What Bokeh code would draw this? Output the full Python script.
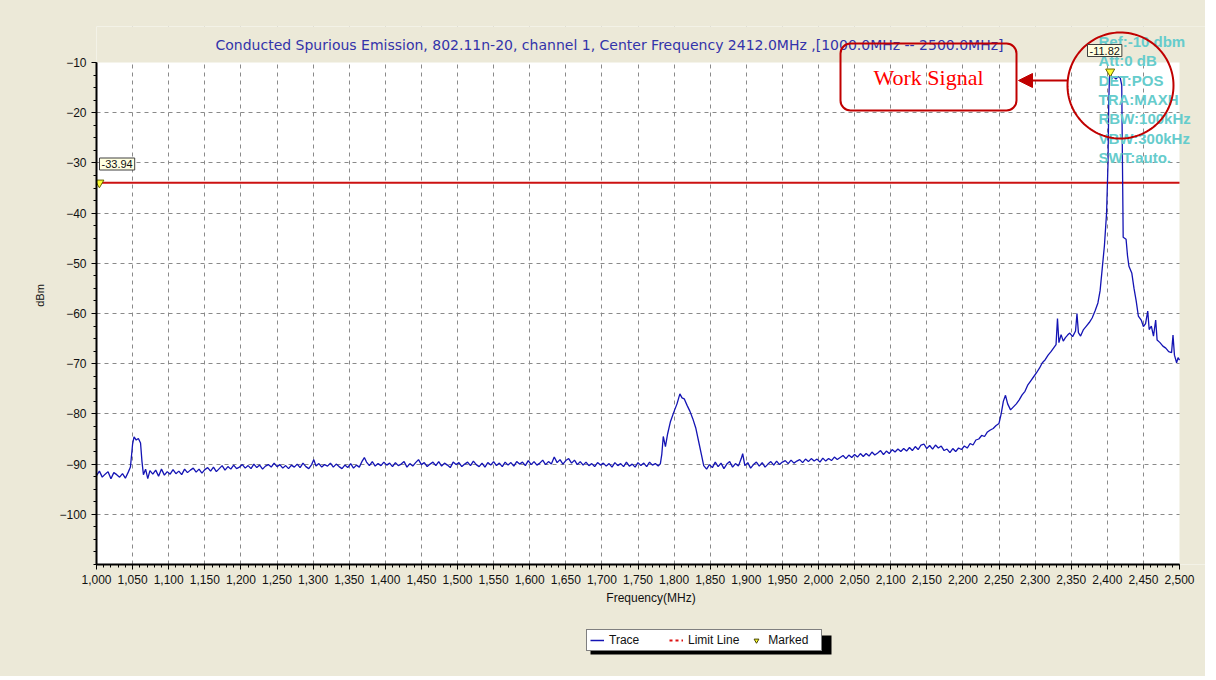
import numpy as np
from bokeh.plotting import figure
from bokeh.layouts import column
from bokeh.models import (Label, Legend, LegendItem, FixedTicker, NumeralTickFormatter,
                          Arrow, NormalHead, BoxAnnotation, PolyAnnotation)
from bokeh.embed import file_html
from bokeh.resources import INLINE

# ---------------- data ----------------
TITLE = ("Conducted Spurious Emission, 802.11n-20, channel 1, Center Frequency 2412.0MHz "
         ",[1000.0MHz -- 2500.0MHz]")
X_LABEL = "Frequency(MHz)"
Y_LABEL = "dBm"
x_ticks = list(range(1000, 2501, 50))
y_ticks = list(range(-100, -9, 10))
limit_dbm = -33.94
marker_freq = [1004, 2404]
marker_dbm = [-33.94, -11.82]
marker_text = ["-33.94", "-11.82"]
settings_text = ["Ref:-10 dbm", "Att:0 dB", "DET:POS", "TRA:MAXH",
                 "RBW:100kHz", "VBW:300kHz", "SWT:auto."]
callout_text = "Work Signal"
legend_labels = ["Trace", "Limit Line", "Marked"]

# trace, split into regions: (frequency MHz, level dBm)
trace_low = [
    (1000, -92.3), (1004, -91.4), (1008, -92.6), (1012, -92.0), (1016, -91.5), (1020, -92.9),
    (1024, -91.7), (1028, -92.1), (1032, -92.6), (1036, -91.9), (1040, -92.8), (1044, -91.6),
    (1047, -90.6), (1050, -86.0), (1052, -84.6), (1055, -85.2), (1058, -84.9), (1061, -85.8),
    (1063, -89.5), (1065, -92.1), (1068, -91.0), (1071, -92.9), (1074, -91.3), (1078, -92.0),
    (1082, -91.2), (1086, -92.4), (1090, -91.0), (1094, -92.2), (1098, -91.5), (1102, -92.0),
    (1106, -91.1), (1110, -91.9), (1114, -91.4), (1118, -92.1), (1122, -91.0), (1126, -91.7),
    (1130, -91.2), (1134, -90.8), (1138, -91.6), (1142, -91.0), (1146, -91.8), (1150, -91.1),
    (1154, -90.7), (1158, -91.4), (1162, -90.6), (1166, -91.5), (1170, -90.9), (1174, -90.3),
    (1178, -91.2), (1182, -90.5), (1186, -91.0), (1190, -90.2), (1194, -90.9), (1198, -90.6),
    (1202, -90.1), (1206, -90.8), (1210, -90.3), (1214, -90.9), (1218, -90.0), (1222, -90.7),
    (1226, -90.2), (1230, -91.0), (1234, -90.4), (1238, -90.1), (1242, -90.6), (1246, -89.8),
    (1250, -90.5), (1254, -90.1), (1258, -90.8), (1262, -90.3), (1266, -90.9), (1270, -90.2),
    (1274, -90.6), (1278, -90.0), (1282, -90.7), (1286, -89.8), (1290, -90.5), (1294, -90.9),
    (1298, -90.1), (1301, -89.1), (1304, -90.4), (1308, -89.9), (1312, -90.6), (1316, -90.1),
    (1320, -90.4), (1324, -89.8), (1328, -90.6), (1332, -90.0), (1336, -90.5), (1340, -90.9),
    (1344, -90.2), (1348, -90.7), (1352, -89.9), (1356, -90.8), (1360, -90.2), (1364, -90.6),
    (1368, -89.4), (1371, -88.7), (1374, -89.6), (1378, -90.3), (1382, -89.5), (1386, -90.4),
    (1390, -89.9),
]
trace_mid = [
    (1394, -90.3), (1398, -89.6), (1402, -90.2), (1406, -89.8), (1410, -90.5), (1414, -89.7),
    (1418, -90.3), (1422, -90.0), (1426, -89.5), (1430, -90.6), (1434, -89.9), (1438, -90.4),
    (1442, -89.7), (1446, -89.1), (1450, -90.1), (1454, -89.7), (1458, -90.5), (1462, -90.0),
    (1466, -89.6), (1470, -90.3), (1474, -89.5), (1478, -90.4), (1482, -89.8), (1486, -90.2),
    (1490, -90.7), (1494, -89.6), (1498, -90.1), (1502, -89.7), (1506, -90.5), (1510, -90.0),
    (1514, -89.6), (1518, -90.3), (1522, -89.4), (1526, -90.1), (1530, -90.5), (1534, -89.8),
    (1538, -90.6), (1542, -89.7), (1546, -90.2), (1550, -89.5), (1554, -90.3), (1558, -89.8),
    (1562, -90.5), (1566, -89.6), (1570, -90.2), (1574, -89.7), (1578, -90.4), (1582, -89.5),
    (1586, -90.0), (1590, -89.6), (1594, -90.3), (1598, -89.3), (1602, -90.1), (1606, -89.5),
    (1610, -90.2), (1614, -89.8), (1618, -89.2), (1622, -90.1), (1626, -89.5), (1630, -90.0),
    (1634, -88.6), (1638, -89.7), (1642, -89.1), (1646, -90.0), (1650, -89.3), (1654, -88.9),
    (1658, -89.8), (1662, -89.2), (1666, -90.1), (1670, -89.5), (1674, -90.2), (1678, -89.6),
    (1682, -90.3), (1686, -89.9), (1690, -90.5), (1694, -89.7), (1698, -90.2), (1702, -89.8),
    (1706, -90.4), (1710, -89.9), (1714, -90.6), (1718, -89.7), (1722, -90.3), (1726, -89.9),
    (1730, -90.5), (1734, -89.6), (1738, -90.4), (1742, -90.0), (1746, -90.6), (1750, -89.7),
    (1754, -90.3), (1758, -89.8), (1762, -90.5), (1766, -89.6), (1770, -90.2), (1774, -89.9),
    (1778, -90.4), (1781, -89.9),
]
trace_spur = [
    (1783, -88.0), (1785, -84.5), (1788, -86.5), (1791, -84.0), (1795, -81.5), (1800, -79.5),
    (1804, -78.0), (1808, -76.0), (1811, -76.8), (1814, -77.0), (1818, -78.3), (1822, -79.5),
    (1826, -81.0), (1830, -82.8), (1834, -85.5), (1838, -88.2), (1841, -90.3), (1845, -91.0),
]
trace_high = [
    (1849, -90.1), (1853, -90.7), (1857, -89.6), (1861, -90.5), (1865, -89.8), (1869, -90.9),
    (1873, -90.0), (1877, -89.5), (1881, -90.6), (1885, -89.9), (1889, -90.4), (1893, -88.9),
    (1895, -87.9), (1898, -90.3), (1902, -89.7), (1906, -90.8), (1910, -90.1), (1914, -89.6),
    (1918, -90.4), (1922, -89.7), (1926, -90.6), (1930, -90.0), (1934, -89.5), (1938, -90.2),
    (1942, -89.4), (1946, -90.1), (1950, -89.6), (1954, -89.3), (1958, -89.9), (1962, -89.2),
    (1966, -89.8), (1970, -89.4), (1974, -89.1), (1978, -89.7), (1982, -89.0), (1986, -89.5),
    (1990, -88.9), (1994, -89.4), (1998, -89.0), (2002, -89.6), (2006, -88.8), (2010, -89.4),
    (2014, -88.9), (2018, -89.3), (2022, -88.6), (2026, -89.1), (2030, -88.7), (2034, -88.3),
    (2038, -88.9), (2042, -88.2), (2046, -88.7), (2050, -88.1), (2054, -88.6), (2058, -87.9),
    (2062, -88.5), (2066, -87.9), (2070, -88.4), (2074, -87.6), (2078, -88.2), (2082, -87.8),
    (2086, -87.3), (2090, -88.1), (2094, -87.4), (2098, -87.9), (2102, -87.1), (2106, -87.6),
    (2110, -87.0), (2114, -87.5), (2118, -86.9), (2122, -87.4), (2126, -86.7), (2130, -87.3),
    (2134, -86.5), (2138, -87.1), (2142, -86.2), (2146, -86.0), (2150, -86.9), (2154, -86.3),
    (2158, -87.0), (2162, -86.2), (2166, -86.8), (2170, -86.4), (2174, -87.3), (2178, -87.0),
    (2182, -87.7), (2186, -86.9), (2190, -87.5), (2194, -86.8), (2198, -87.1), (2202, -86.4),
    (2206, -86.8),
]
trace_skirt = [
    (2210, -85.9), (2214, -86.2), (2218, -85.2), (2222, -85.0), (2226, -84.3), (2230, -84.5),
    (2234, -83.6), (2238, -83.2), (2242, -82.9), (2246, -82.3), (2250, -81.9), (2253, -80.0),
    (2256, -77.5), (2259, -76.3), (2262, -78.0), (2266, -79.2), (2270, -78.6), (2274, -78.0),
    (2278, -77.2), (2282, -76.2), (2286, -75.5), (2290, -74.2), (2294, -73.4), (2298, -72.6),
    (2302, -71.8), (2306, -70.9), (2310, -69.8), (2314, -69.2), (2318, -68.3), (2322, -67.6),
    (2326, -66.8), (2329, -66.2), (2331, -61.0), (2333, -65.8), (2336, -64.2), (2339, -65.5),
    (2342, -64.8), (2345, -64.3), (2348, -63.9), (2352, -64.6), (2356, -63.5), (2358, -60.0),
    (2360, -63.8), (2363, -64.5), (2367, -63.2), (2371, -62.5), (2375, -61.8), (2379, -60.9),
    (2383, -59.5), (2387, -57.9), (2390, -55.5), (2393, -51.0), (2396, -46.5), (2399, -40.0),
    (2401, -30.0), (2402, -18.0),
]
trace_carrier = [
    (2403, -12.8), (2404, -11.82), (2406, -13.2), (2409, -12.9), (2412, -13.3), (2415, -12.8),
    (2418, -13.1), (2420, -14.5), (2421, -30.0), (2422, -44.8), (2426, -45.2), (2428, -48.5),
    (2430, -50.6), (2434, -52.0), (2437, -55.0), (2440, -57.5), (2443, -60.5), (2447, -61.3),
    (2450, -62.6), (2453, -62.0), (2456, -59.5), (2458, -63.2), (2461, -62.5), (2464, -64.5),
    (2467, -61.3), (2469, -65.3), (2473, -65.8), (2477, -66.5), (2481, -66.9), (2485, -67.6),
    (2489, -67.8), (2491, -64.3), (2493, -68.3), (2496, -69.8), (2498, -68.8), (2500, -69.3),
]

trace = trace_low + trace_mid + trace_spur + trace_high + trace_skirt + trace_carrier
freq_mhz = [f for f, _ in trace]
level_dbm = [v for _, v in trace]

# ---------------- layout helpers (page pixels -> data) ----------------
X0, X1, Y0, Y1 = 1000, 2500, -110, -10
FL, FR, FT, FB = 96, 1179, 62, 564          # plotting area of the reference, in pixels
W, H, TOP, LEG_H = 1205, 620, 26, 56         # main figure; legend strip below it
def dx(px):
    return X0 + (px - FL) * (X1 - X0) / (FR - FL)
def dy(py):
    return Y1 - (py - FT) * (Y1 - Y0) / (FB - FT)

BEIGE = "#ECE9D8"
FONT = "Liberation Sans"
TRACE_BLUE = "#1414B4"
LIMIT_RED = "#CC1111"
MARK_YELLOW = "#FFFF33"

p = figure(width=W, height=H, x_range=(X0, dx(W)), y_range=(Y0, dy(TOP)),
           output_backend="svg", toolbar_location=None,
           min_border_left=FL, min_border_right=0,
           min_border_top=TOP, min_border_bottom=H - FB)
p.background_fill_color = "white"
p.border_fill_color = BEIGE
p.outline_line_color = None

# beige outside the measured area (frame is extended to hold the annotations)
p.add_layout(BoxAnnotation(bottom=Y1, fill_color=BEIGE, fill_alpha=1, line_alpha=0, level="underlay"))
p.add_layout(BoxAnnotation(left=X1, fill_color=BEIGE, fill_alpha=1, line_alpha=0, level="underlay"))

# axes
p.xaxis.ticker = FixedTicker(ticks=x_ticks, minor_ticks=list(range(X0, X1 + 1, 10)))
p.yaxis.ticker = FixedTicker(ticks=y_ticks, minor_ticks=list(np.arange(Y0, Y1 + 0.1, 2.5)))
p.xaxis.formatter = NumeralTickFormatter(format="0,0")
p.xaxis.bounds = (X0, X1)
p.yaxis.bounds = (Y0, Y1)
for ax in (p.xaxis[0], p.yaxis[0]):
    ax.axis_line_color = "black"
    ax.axis_line_width = 2
    ax.major_tick_line_color = "black"
    ax.minor_tick_line_color = "black"
    ax.major_tick_out = 5
    ax.major_tick_in = 0
    ax.minor_tick_out = 3
    ax.minor_tick_in = 0
    ax.major_label_text_font = FONT
    ax.major_label_text_font_size = "12px"
    ax.major_label_text_color = "#111111"
    ax.axis_label_text_font = FONT
    ax.axis_label_text_font_style = "normal"
    ax.axis_label_text_color = "#111111"
p.xaxis.axis_label = X_LABEL
p.xaxis.axis_label_text_font_size = "12px"
p.xaxis.axis_label_standoff = 4
p.xaxis.major_label_standoff = 5
p.yaxis.axis_label = Y_LABEL
p.yaxis.axis_label_text_font_size = "11px"
p.yaxis.axis_label_standoff = 10

# grid
p.xgrid.ticker = FixedTicker(ticks=x_ticks[1:-1])
p.ygrid.ticker = FixedTicker(ticks=y_ticks[:-1])
p.xgrid.bounds = (Y0, Y1)
p.ygrid.bounds = (X0, X1)
for g in (p.xgrid[0], p.ygrid[0]):
    g.grid_line_color = "#8a8a8a"
    g.grid_line_dash = "4 4"
    g.grid_line_width = 1

# limit line, trace and markers
p.line([X0, X1], [limit_dbm, limit_dbm], line_color=LIMIT_RED, line_width=2)
p.line(freq_mhz, level_dbm, line_color=TRACE_BLUE, line_width=1.3)
p.scatter(marker_freq, marker_dbm, marker="inverted_triangle", size=9,
          fill_color=MARK_YELLOW, line_color="#666600", line_width=1)

# title
p.add_layout(Label(x=dx(609), y=dy(44), text=TITLE, text_align="center", text_baseline="middle",
                   text_font="DejaVu Sans", text_font_size="14px", text_color="#3333AA"))

# analyzer settings (cyan)
for i, t in enumerate(settings_text):
    p.add_layout(Label(x=dx(1098), y=dy(41 + i * 19.3), text=t, text_align="left",
                       text_baseline="middle", text_font=FONT, text_font_size="15px",
                       text_font_style="bold", text_color="#66CCCC"))

# red circle around the carrier
t = np.linspace(0, 2 * np.pi, 120)
cx, cy, r = 1120, 85, 53
p.add_layout(PolyAnnotation(xs=list(dx(cx + r * np.cos(t))), ys=list(dy(cy + r * np.sin(t))),
                            fill_alpha=0, line_color="#C00000", line_alpha=1, line_width=2))

# callout box + arrow
p.add_layout(BoxAnnotation(left=dx(840), right=dx(1016), top=dy(43), bottom=dy(110),
                           fill_alpha=0, line_color="#C00000", line_alpha=1, line_width=2,
                           border_radius=10))
p.add_layout(Label(x=dx(928), y=dy(77), text=callout_text, text_align="center",
                   text_baseline="middle", text_font="Liberation Serif",
                   text_font_size="22px", text_color="#FF0000"))
p.add_layout(Arrow(x_start=dx(1067), y_start=dy(80), x_end=dx(1018), y_end=dy(80),
                   line_color="#C00000", line_width=2,
                   end=NormalHead(size=14, fill_color="#C00000", line_color="#C00000")))

# marker value boxes
for (lx, ly), txt in zip([(99, 163.5), (1087, 50)], marker_text):
    p.add_layout(Label(x=dx(lx), y=dy(ly), text=txt, text_align="left", text_baseline="middle",
                       text_font=FONT, text_font_size="11px", text_color="#111111",
                       background_fill_color="#FFFFE1", border_line_color="#404040",
                       padding=2))

# ---------------- legend strip (x shares the main scale, y in page pixels) ----------------
lf = figure(width=W, height=LEG_H, x_range=(X0, dx(W)), y_range=(H + LEG_H, H),
            output_backend="svg", toolbar_location=None,
            x_axis_type=None, y_axis_type=None,
            min_border_left=FL, min_border_right=0, min_border_top=0, min_border_bottom=0)
lf.background_fill_color = None
lf.border_fill_color = BEIGE
lf.outline_line_color = None
lf.xgrid.visible = False
lf.ygrid.visible = False
lf.add_layout(BoxAnnotation(left=dx(590), right=dx(831), top=635, bottom=654, fill_color="black",
                            fill_alpha=1, line_alpha=0))
# hidden copies of the series, used only for the legend glyphs
r_trace = lf.line(freq_mhz, level_dbm, line_color=TRACE_BLUE, line_width=1.5, visible=False)
r_limit = lf.line([X0, X1], [limit_dbm, limit_dbm], line_color="#DD1111", line_width=2,
                  line_dash="3 3", visible=False)
r_mark = lf.scatter(marker_freq, marker_dbm, marker="inverted_triangle", size=10,
                    fill_color=MARK_YELLOW, line_color="#444400", line_width=1, visible=False)
legend = Legend(items=[LegendItem(label=legend_labels[0], renderers=[r_trace]),
                       LegendItem(label=legend_labels[1], renderers=[r_limit]),
                       LegendItem(label=legend_labels[2], renderers=[r_mark])],
                orientation="horizontal", location=(586 - FL, H + LEG_H - 651),
                label_text_font=FONT, label_text_font_size="12px", label_text_color="#111111",
                glyph_width=14, glyph_height=12, label_height=12, label_width=50,
                label_standoff=5, spacing=10, padding=3, margin=0,
                border_line_color="black", border_line_width=1,
                background_fill_color="white", background_fill_alpha=1)
lf.add_layout(legend)

layout = column(p, lf, spacing=0, styles={"background-color": BEIGE})
open("out.html", "w").write(file_html(layout, INLINE))
